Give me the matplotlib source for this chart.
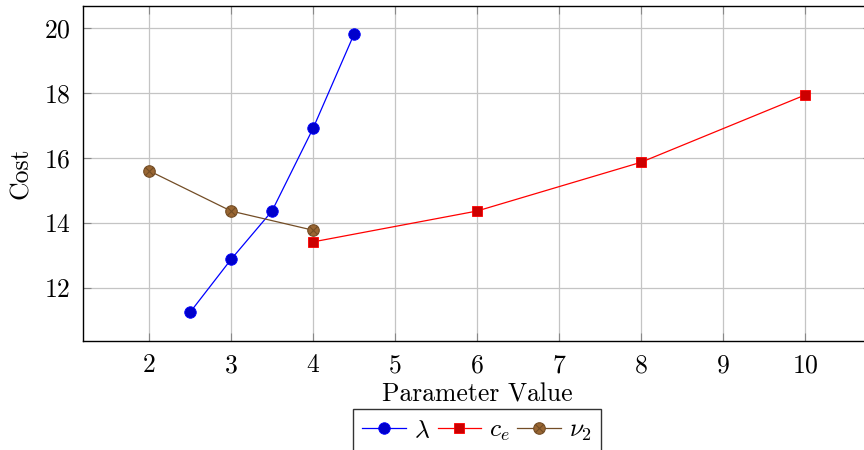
import matplotlib
matplotlib.use("Agg")
import matplotlib.pyplot as plt
from matplotlib.path import Path

# Series
lam_x = [2.5, 3, 3.5, 4, 4.5]
lam_y = [11.25, 12.88, 14.37, 16.91, 19.81]
ce_x = [4, 6, 8, 10]
ce_y = [13.42, 14.37, 15.87, 17.94]
nu_x = [2, 3, 4]
nu_y = [15.61, 14.37, 13.78]

x_ticks = [2, 3, 4, 5, 6, 7, 8, 9, 10]
y_ticks = [12, 14, 16, 18, 20]

# pgfplots-ish colours
BLUE_LINE, BLUE_FILL = "#0000ff", "#0000cc"
RED_LINE, RED_FILL = "#ff0000", "#cc0000"
BROWN_LINE, BROWN_FILL = "#734d26", "#996633"
GRID = "#c4c4c4"

plt.rcParams["font.family"] = "serif"
plt.rcParams["font.serif"] = ["cmr10"]
plt.rcParams["mathtext.fontset"] = "cm"
plt.rcParams["axes.formatter.use_mathtext"] = True

# circle with a cross inside (otimes*)
d = 0.7071
OTIMES = Path.make_compound_path(
    Path.unit_circle(),
    Path([[-d, -d], [d, d]], [Path.MOVETO, Path.LINETO]),
    Path([[-d, d], [d, -d]], [Path.MOVETO, Path.LINETO]),
)

fig = plt.figure(figsize=(8.64, 4.5), dpi=100)
ax = fig.add_axes([83 / 864, 109 / 450, 788 / 864, 335 / 450])

ax.plot(lam_x, lam_y, color=BLUE_LINE, linewidth=0.9, marker="o", markersize=8.3,
        markerfacecolor=BLUE_FILL, markeredgecolor=BLUE_LINE, markeredgewidth=0.6,
        label=r"$\lambda$", zorder=3)
ax.plot(ce_x, ce_y, color=RED_LINE, linewidth=0.9, marker="s", markersize=7.8,
        markerfacecolor=RED_FILL, markeredgecolor=RED_LINE, markeredgewidth=0.6,
        label=r"$c_e$", zorder=3)
ax.plot(nu_x, nu_y, color=BROWN_LINE, linewidth=0.9, marker=OTIMES, markersize=8.3,
        markerfacecolor=BROWN_FILL, markeredgecolor=BROWN_LINE, markeredgewidth=0.8,
        label=r"$\nu_2$", zorder=3)

ax.set_xlim(1.195, 10.805)
ax.set_ylim(10.37, 20.68)
ax.set_xticks(x_ticks)
ax.set_yticks(y_ticks)
ax.tick_params(direction="in", length=6, width=0.8, color="#888888",
               top=True, right=True, labelsize=18.5, pad=9)
ax.grid(True, color=GRID, linewidth=0.9)
ax.set_axisbelow(True)
for sp in ax.spines.values():
    sp.set_linewidth(1.0)
    sp.set_color("black")

ax.set_xlabel("Parameter Value", fontsize=18.5, labelpad=4)
ax.set_ylabel("Cost", fontsize=18.5, labelpad=8)

leg = fig.legend(loc="upper center", bbox_to_anchor=(477 / 864, 1 - 409 / 450),
                 ncol=3, fontsize=18.5, frameon=True, fancybox=False,
                 edgecolor="black", handlelength=1.7, handletextpad=0.3,
                 columnspacing=0.3, borderpad=0.35, borderaxespad=0)
leg.get_frame().set_linewidth(1.0)

fig.savefig("out.png", dpi=100)
